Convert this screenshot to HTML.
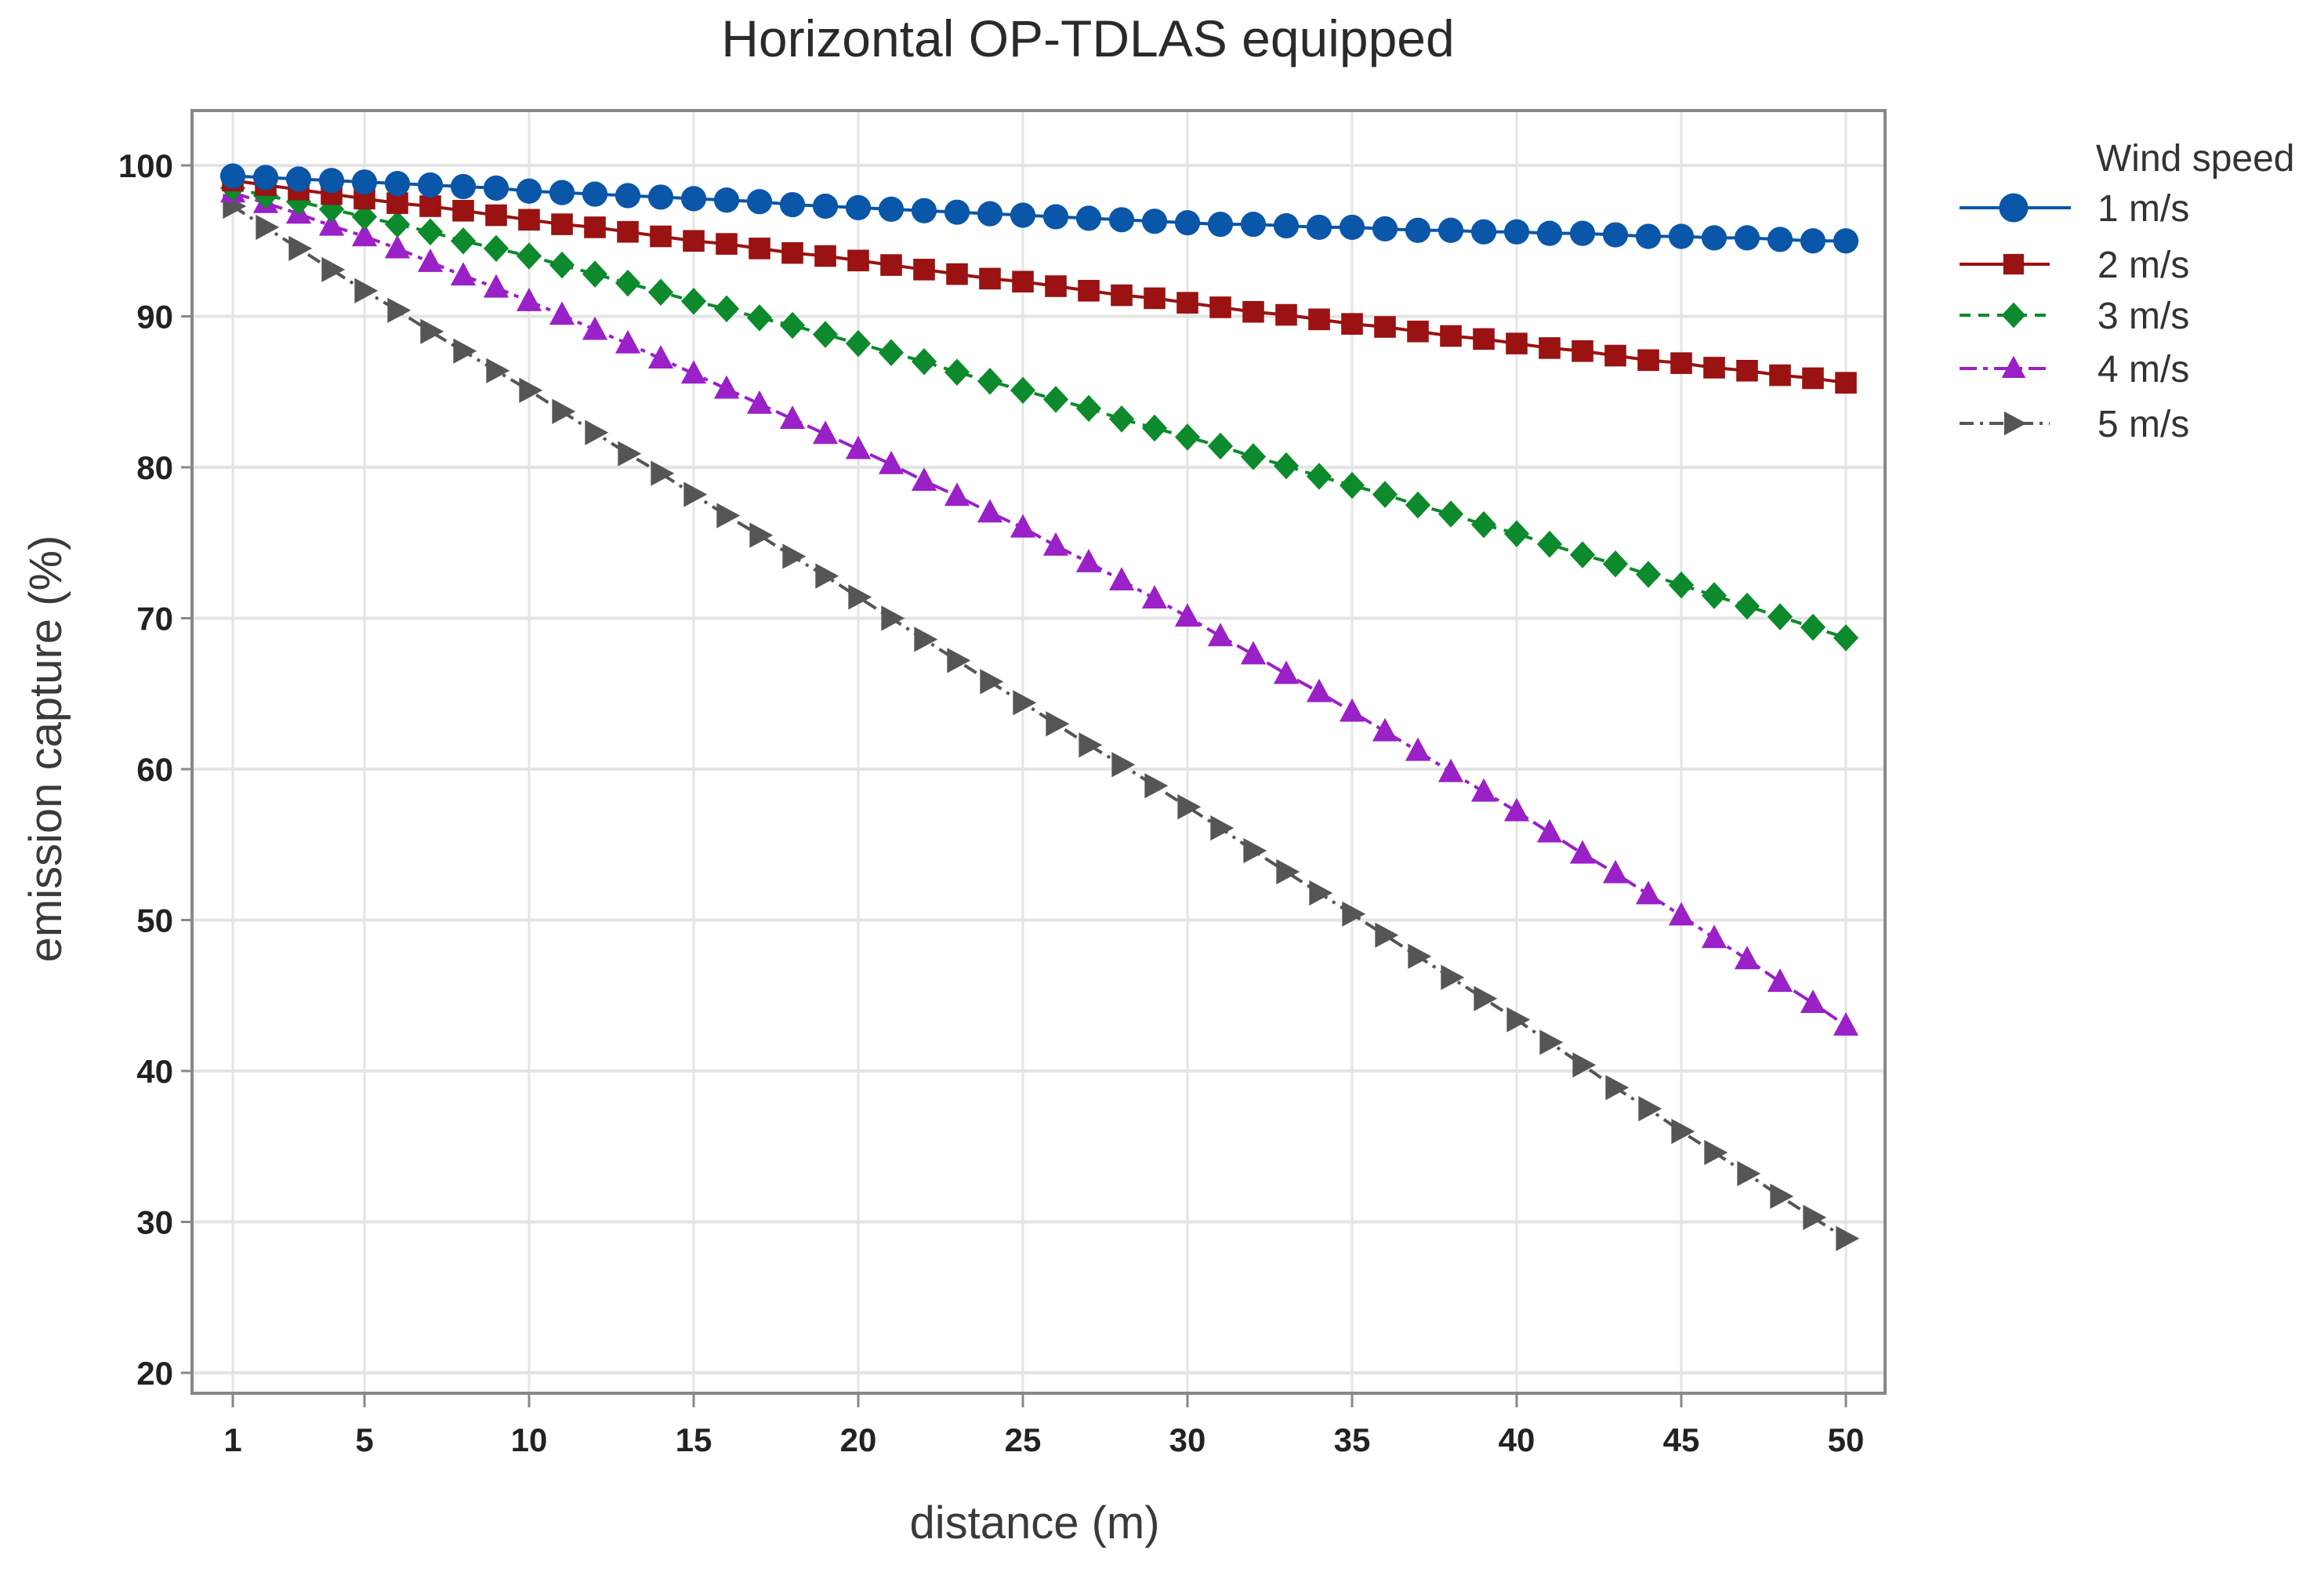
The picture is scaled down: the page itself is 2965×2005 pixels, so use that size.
<!DOCTYPE html>
<html><head><meta charset="utf-8"><style>
html,body{margin:0;padding:0;background:#fff;}
svg{display:block;font-family:"Liberation Sans","DejaVu Sans",sans-serif;}
</style></head><body>
<svg id="chart" width="2965" height="2005" viewBox="0 0 2965 2005" xmlns="http://www.w3.org/2000/svg">
<rect width="2965" height="2005" fill="#fff"/>
<text x="1388" y="72" text-anchor="middle" font-size="66" fill="#2a2a2a">Horizontal OP-TDLAS equipped</text>
<g id="grid"></g>
<g id="axes"></g>
<g id="series"></g>
<text x="1320" y="1962" text-anchor="middle" font-size="58" fill="#3a3a3a">distance (m)</text>
<text transform="translate(78,955) rotate(-90)" text-anchor="middle" font-size="58" fill="#3a3a3a">emission capture (%)</text>
<g id="legend">
<text x="2674" y="218" font-size="48" fill="#333">Wind speed</text>
</g>
</svg>
<script>
const distances = Array.from({length:50},(_, i)=>i+1);
const xTicks = [1,5,10,15,20,25,30,35,40,45,50];
const yTicks = [20,30,40,50,60,70,80,90,100];
const seriesNames = ["1 m/s","2 m/s","3 m/s","4 m/s","5 m/s"];
const wind1 = [99.3,99.2,99.1,99.0,98.9,98.8,98.7,98.6,98.5,98.3,98.2,98.1,98.0,97.9,97.8,97.7,97.6,97.4,97.3,97.2,97.1,97.0,96.9,96.8,96.7,96.6,96.5,96.4,96.3,96.2,96.1,96.1,96.0,95.9,95.9,95.8,95.7,95.7,95.6,95.6,95.5,95.5,95.4,95.3,95.3,95.2,95.2,95.1,95.0,95.0];
const wind2 = [99.0,98.7,98.4,98.1,97.8,97.5,97.3,97.0,96.7,96.4,96.1,95.9,95.6,95.3,95.0,94.8,94.5,94.2,94.0,93.7,93.4,93.1,92.8,92.5,92.3,92.0,91.7,91.4,91.2,90.9,90.6,90.3,90.1,89.8,89.5,89.3,89.0,88.7,88.5,88.2,87.9,87.7,87.4,87.1,86.9,86.6,86.4,86.1,85.9,85.6];
const wind3 = [98.5,98.0,97.6,97.1,96.6,96.1,95.6,95.0,94.5,94.0,93.4,92.8,92.2,91.6,91.0,90.5,89.9,89.4,88.8,88.2,87.6,87.0,86.3,85.7,85.1,84.5,83.9,83.2,82.6,82.0,81.4,80.7,80.1,79.4,78.8,78.2,77.5,76.9,76.2,75.6,74.9,74.2,73.6,72.9,72.2,71.5,70.8,70.1,69.4,68.7];
const wind4 = [98.2,97.5,96.8,96.0,95.3,94.5,93.6,92.7,91.9,91.0,90.1,89.1,88.2,87.2,86.2,85.2,84.2,83.2,82.2,81.2,80.2,79.1,78.1,77.0,76.0,74.8,73.7,72.5,71.3,70.1,68.8,67.6,66.3,65.1,63.8,62.5,61.2,59.8,58.5,57.2,55.8,54.4,53.1,51.7,50.3,48.8,47.4,45.9,44.5,43.0];
const wind5 = [97.3,95.9,94.5,93.1,91.7,90.4,89.0,87.7,86.4,85.1,83.7,82.3,80.9,79.6,78.2,76.8,75.5,74.1,72.8,71.4,70.0,68.6,67.2,65.8,64.4,63.0,61.6,60.3,58.9,57.5,56.1,54.6,53.2,51.8,50.4,49.0,47.6,46.2,44.8,43.4,41.9,40.4,38.9,37.5,36.0,34.6,33.2,31.7,30.3,28.9];

const NS="http://www.w3.org/2000/svg";
const X0=297,X1=2355,Y100=211,Y20=1751;
function xs(v){return X0+(v-1)*(X1-X0)/49;}
function ys(v){return Y20-(v-20)*(Y20-Y100)/80;}
function mk(tag,attrs,parent){const e=document.createElementNS(NS,tag);for(const k in attrs)e.setAttribute(k,attrs[k]);parent.appendChild(e);return e;}
const FL=245,FR=2405,FT=141,FB=1777;
const grid=document.getElementById('grid'),axes=document.getElementById('axes'),ser=document.getElementById('series');
yTicks.forEach(t=>{
  const l=mk('line',{x1:FL,x2:FR,y1:ys(t),y2:ys(t),stroke:'#e4e4e4','stroke-width':4},grid);
  
  
  mk('line',{x1:FL-14,x2:FL,y1:ys(t),y2:ys(t),stroke:'#888','stroke-width':3},axes);
  const tx=mk('text',{x:FL-24,y:ys(t)+15,'text-anchor':'end','font-size':42,'font-weight':'bold',fill:'#222'},axes);
  tx.textContent=t;
  
  
});
xTicks.forEach(t=>{
  const l=mk('line',{x1:xs(t),x2:xs(t),y1:FT,y2:FB,stroke:'#e4e4e4','stroke-width':3},grid);
  
  
  mk('line',{x1:xs(t),x2:xs(t),y1:FB,y2:FB+18,stroke:'#888','stroke-width':3},axes);
  const tx=mk('text',{x:xs(t),y:FB+74,'text-anchor':'middle','font-size':42,'font-weight':'bold',fill:'#222'},axes);
  tx.textContent=t;
  
  
});
const frame=mk('rect',{x:FL,y:FT,width:FR-FL,height:FB-FT,fill:'none',stroke:'#888','stroke-width':4},axes);



const allSeries=[wind1,wind2,wind3,wind4,wind5];
const styles=[
 {c:'#0a56a8',d:'',m:'circle'},
 {c:'#9a1212',d:'',m:'square'},
 {c:'#0c8a2c',d:'14 10',m:'diamond'},
 {c:'#9a20c8',d:'22 8 6 8',m:'triangle'},
 {c:'#555',d:'18 8 4 8',m:'arrow'}
];
function marker(type,x,y,c,parent,s){
  s=(s||1)*1.15;
  if(type==='circle')return mk('circle',{cx:x,cy:y,r:14*s,fill:c},parent);
  if(type==='square')return mk('rect',{x:x-12*s,y:y-12*s,width:24*s,height:24*s,fill:c},parent);
  if(type==='diamond')return mk('polygon',{points:`${x},${y-15*s} ${x+14*s},${y} ${x},${y+15*s} ${x-14*s},${y}`,fill:c},parent);
  if(type==='triangle')return mk('polygon',{points:`${x},${y-15*s} ${x+14*s},${y+11*s} ${x-14*s},${y+11*s}`,fill:c},parent);
  return mk('polygon',{points:`${x-11*s},${y-14*s} ${x+15*s},${y} ${x-11*s},${y+14*s}`,fill:c},parent);
}
for(let si=allSeries.length-1;si>=0;si--){
  const vals=allSeries[si],st=styles[si];
  const g=mk('g',{},ser);
  
  
  const pl=mk('polyline',{points:vals.map((v,i)=>xs(distances[i])+','+ys(v)).join(' '),fill:'none',stroke:st.c,'stroke-width':4,'stroke-dasharray':st.d},g);
  
  
  vals.forEach((v,i)=>{
    const m=marker(st.m,xs(distances[i]),ys(v),st.c,g);
    
    
  });
}
const leg=document.getElementById('legend');
const legY=[265,337,402,470,540];
seriesNames.forEach((n,i)=>{
  const st=styles[i];
  const g=mk('g',{},leg);
  
  
  mk('line',{x1:2500,x2:i===0?2642:2615,y1:legY[i],y2:legY[i],stroke:st.c,'stroke-width':4,'stroke-dasharray':st.d},g);
  marker(st.m,2569,legY[i],st.c,g,i===0?1.15:0.95);
  const t=mk('text',{x:2676,y:legY[i]+17,'font-size':48,fill:'#333'},g);
  t.textContent=n;
});
</script>
</body></html>
